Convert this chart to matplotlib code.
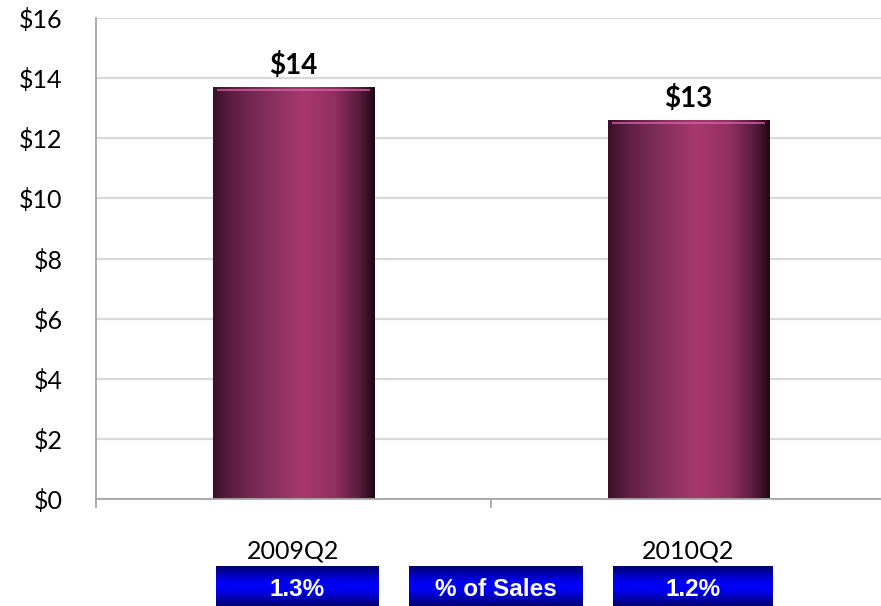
import numpy as np
import matplotlib.pyplot as plt
from matplotlib.colors import LinearSegmentedColormap
from matplotlib.patches import Rectangle

# Quarterly spend ($M) and share of sales
quarters = ["2009Q2", "2010Q2"]
spend = [13.7, 12.6]
spend_labels = ["$14", "$13"]
pct_sales = ["1.3%", "1.2%"]
y_ticks = [0, 2, 4, 6, 8, 10, 12, 14, 16]

plt.rcParams["font.family"] = ["Lato", "DejaVu Sans"]

fig = plt.figure(figsize=(8.81, 6.06), dpi=100)
ax = fig.add_axes([96 / 881, 107 / 606, 790 / 881, 481 / 606])

x = np.arange(len(quarters))
bar_w = 0.41

# cylinder-like shading across the bar width
bar_cmap = LinearSegmentedColormap.from_list(
    "plum",
    [(0.0, "#3c1028"), (0.12, "#5e1f42"), (0.3, "#7e2d5a"), (0.55, "#a8396d"),
     (0.75, "#92305f"), (0.9, "#5a1d3f"), (1.0, "#220714")],
)
shade = np.linspace(0, 1, 256)[None, :]

bars = ax.bar(x, spend, width=bar_w, color="none", zorder=2)
for rect, val, lab in zip(bars, spend, spend_labels):
    x0 = rect.get_x()
    x1 = x0 + rect.get_width()
    ax.imshow(shade, cmap=bar_cmap, aspect="auto", extent=(x0, x1, 0, val),
              zorder=2, interpolation="bicubic")
    # soft highlight along the top edge
    ax.add_patch(Rectangle((x0 + 0.012, val - 0.14), rect.get_width() - 0.024, 0.09,
                           color="#d862a4", alpha=0.75, lw=0, zorder=3))
    ax.text(rect.get_x() + rect.get_width() / 2, val + 0.27, lab, ha="center",
            va="bottom", fontsize=20, fontweight="bold", zorder=4)

ax.set_xlim(-0.5, 1.5)
ax.set_ylim(0, 16)
ax.set_yticks(y_ticks)
ax.set_yticklabels([f"${v}" for v in y_ticks])
ax.set_xticks(x)
ax.set_xticklabels(quarters)
ax.set_xticks([-0.5, 0.5, 1.5], minor=True)

ax.grid(axis="y", color="#d9d9d9", lw=1.6, zorder=0)
ax.set_axisbelow(True)
for s in ["top", "right"]:
    ax.spines[s].set_visible(False)
for s in ["left", "bottom"]:
    ax.spines[s].set_color("#a6a6a6")
    ax.spines[s].set_linewidth(1.3)

ax.tick_params(axis="y", length=0, pad=24, labelsize=18)
ax.tick_params(axis="x", which="major", length=0, pad=29, labelsize=18)
ax.tick_params(axis="x", which="minor", length=6.5, width=1.3, color="#a6a6a6",
               direction="out")

# % of sales boxes below the category labels
box_cmap = LinearSegmentedColormap.from_list(
    "navy", [(0.0, "#000070"), (0.4, "#0000f5"), (0.6, "#0000f5"), (1.0, "#000070")]
)
vshade = np.linspace(0, 1, 128)[:, None]
boxes = [(216, 379, pct_sales[0]), (409, 583, "% of Sales"), (613, 773, pct_sales[1])]
for bx0, bx1, txt in boxes:
    bax = fig.add_axes([bx0 / 881, 0, (bx1 - bx0) / 881, 40 / 606])
    bax.imshow(vshade, cmap=box_cmap, aspect="auto", extent=(0, 1, 0, 1),
               interpolation="bicubic")
    bax.set_xlim(0, 1)
    bax.set_ylim(0, 1)
    bax.axis("off")
    bax.text(0.5, 0.4, txt, ha="center", va="center", color="white",
             fontsize=17.5, fontweight="bold", family=["Liberation Sans", "DejaVu Sans"])

fig.savefig("out.png", dpi=100)
